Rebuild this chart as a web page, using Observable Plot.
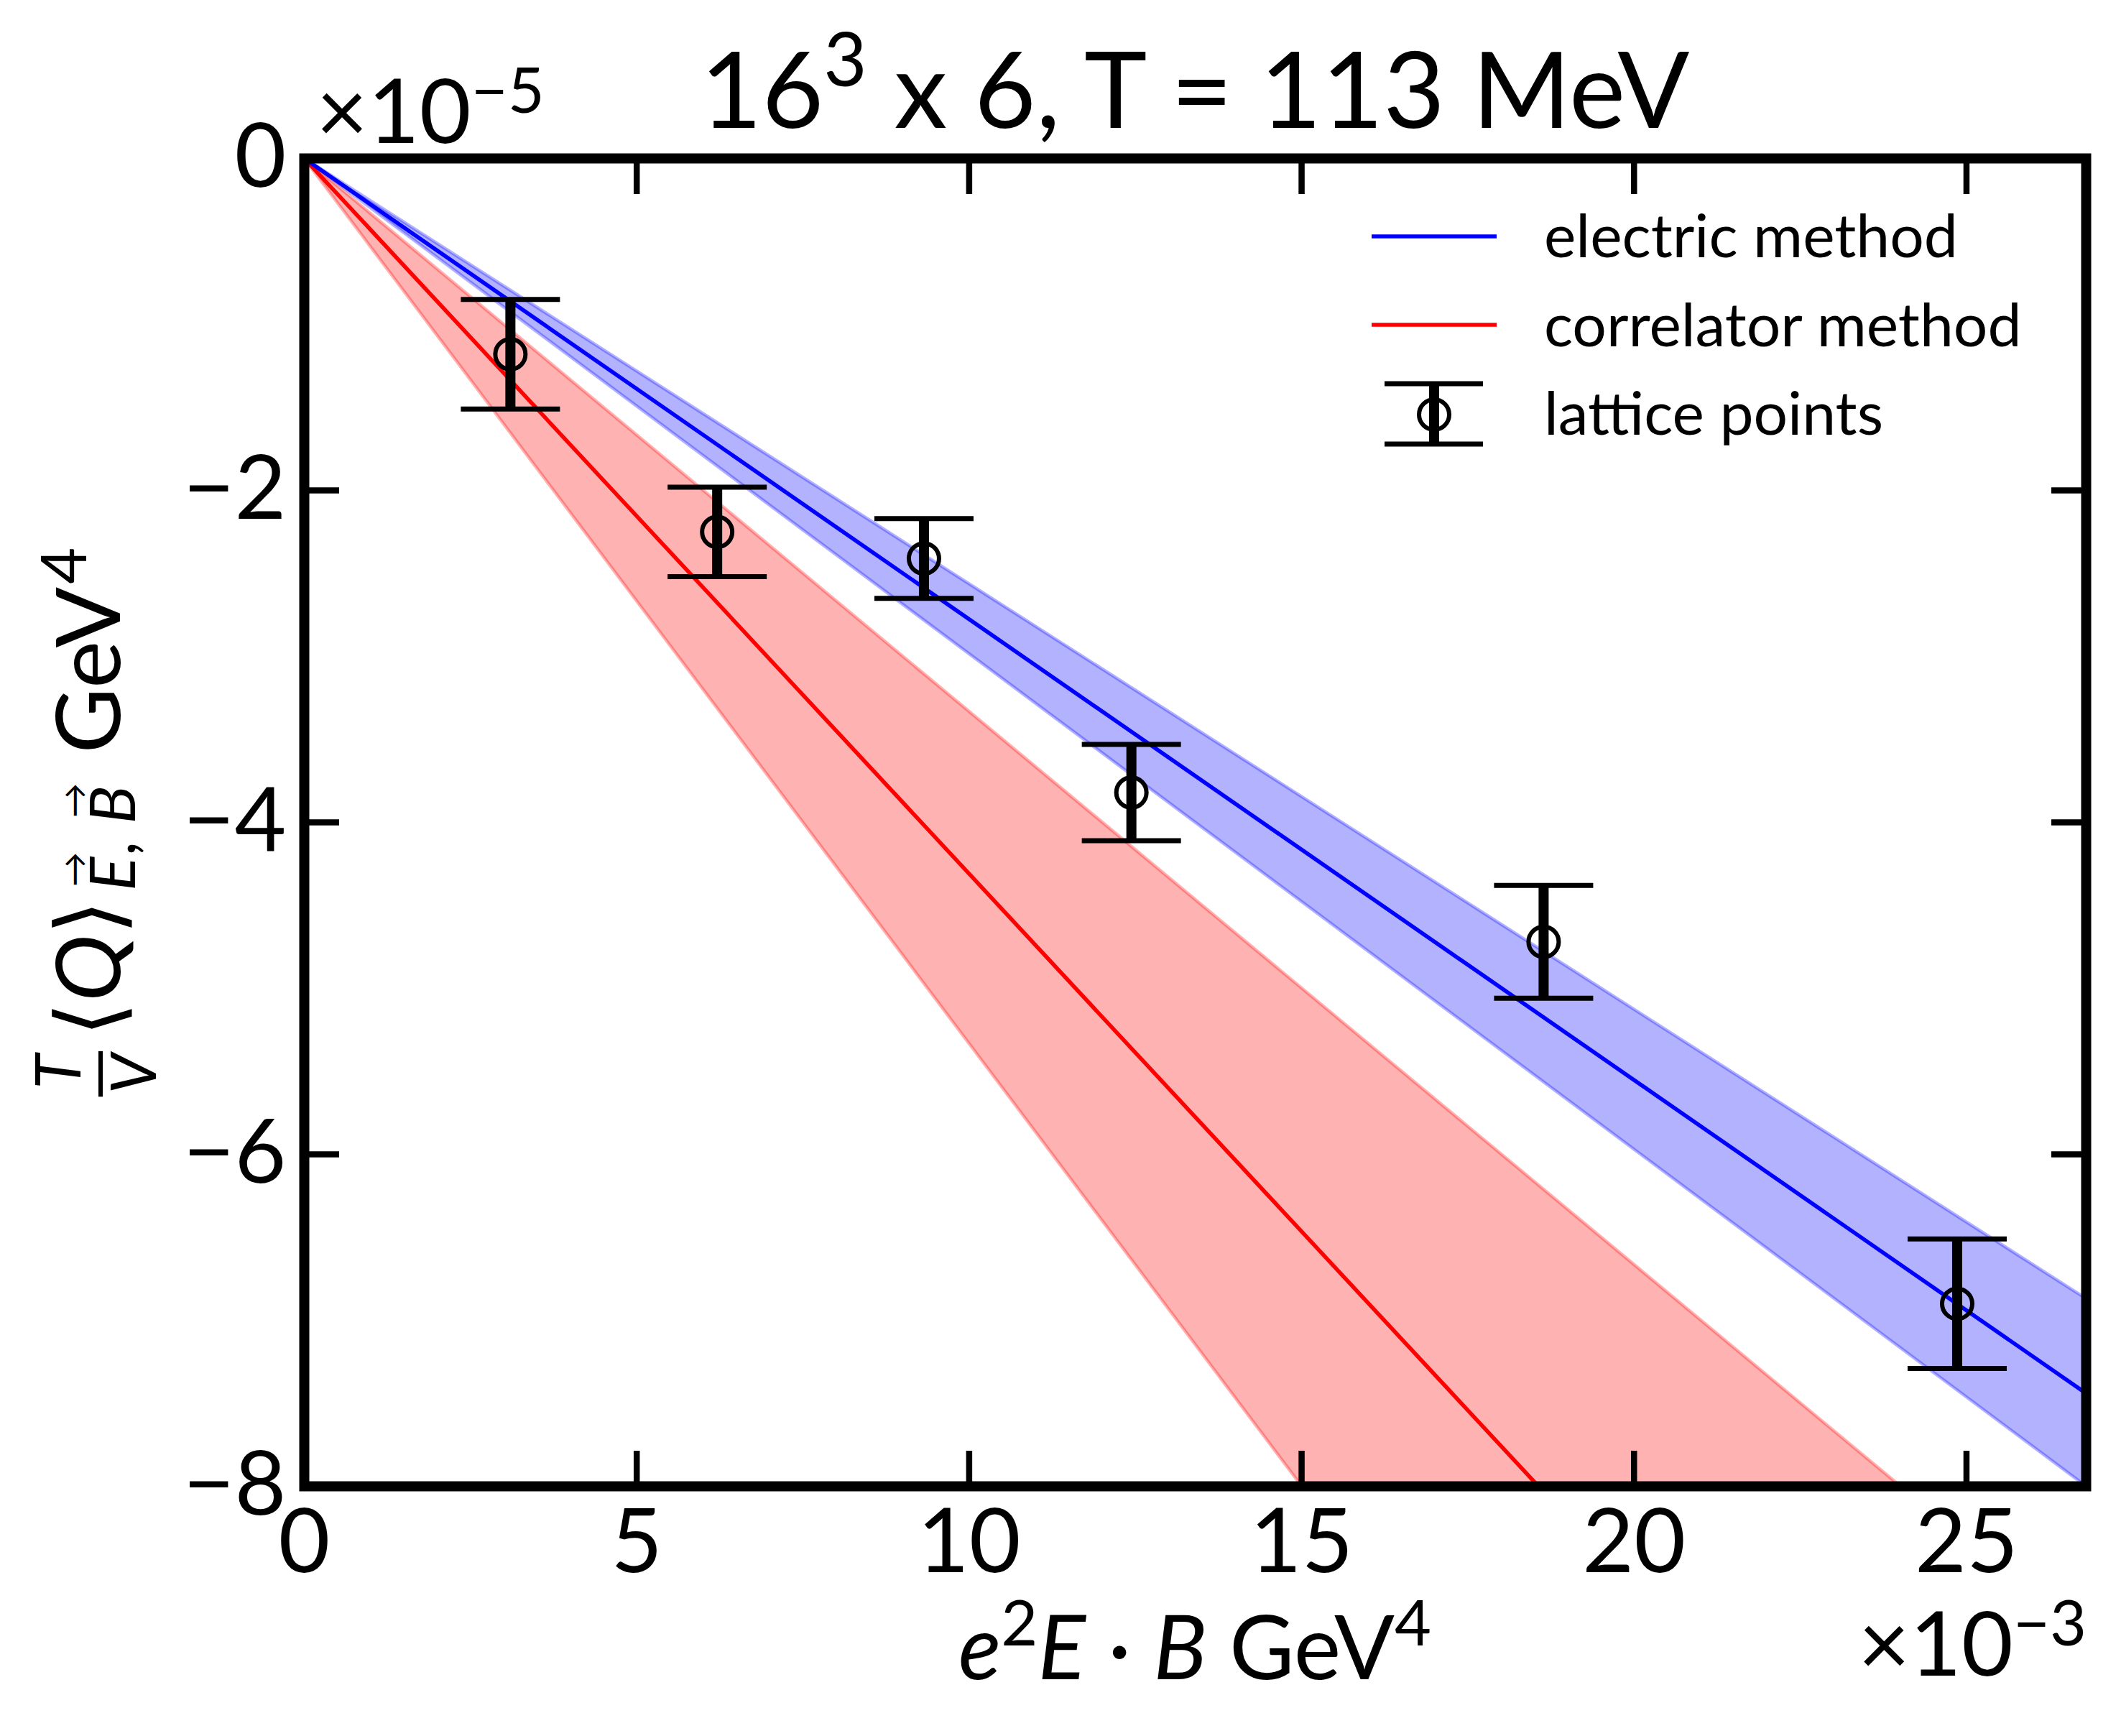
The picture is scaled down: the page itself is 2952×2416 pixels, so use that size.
<!DOCTYPE html>
<html>
<head>
<meta charset="utf-8">
<script src="https://cdn.jsdelivr.net/npm/d3@7"></script>
<script src="https://cdn.jsdelivr.net/npm/@observablehq/plot@0.6"></script>
<style>
  html, body { margin: 0; padding: 0; background: #fff; }
  #chart svg { display: block; }
</style>
</head>
<body>
<div id="chart"></div>
<script>
// ---- data (x in units of 1e-3 GeV^4, y in units of 1e-5 GeV^4) ----
const xValues = [3.10, 6.21, 9.32, 12.44, 18.64, 24.86];
const yValues = [-1.18, -2.25, -2.41, -3.82, -4.72, -6.90];
const yErrors = [0.33, 0.27, 0.24, 0.29, 0.34, 0.39];

const fitX = [0, 26.8];
const electricFit = [0, -7.44];
const electricLow = [0, -8.00];
const electricHigh = [0, -6.87];
const correlatorFit = [0, -11.55];
const correlatorLow = [0, -14.29];
const correlatorHigh = [0, -8.93];

const xTicks = [0, 5, 10, 15, 20, 25];
const yTicks = [0, -2, -4, -6, -8];
const xDomain = [0, 26.8];
const yDomain = [-8, 0];
const seriesNames = ["electric method", "correlator method", "lattice points"];

// ---- tables ----
const points = xValues.map((x, i) => ({x, y: yValues[i], err: yErrors[i]}));
const electric = fitX.map((x, i) => ({x, fit: electricFit[i], lo: electricLow[i], hi: electricHigh[i]}));
const correlator = fitX.map((x, i) => ({x, fit: correlatorFit[i], lo: correlatorLow[i], hi: correlatorHigh[i]}));

const fmt = d3.format("d");
const capSymbol = {draw(ctx, size) { const r = Math.sqrt(size / Math.PI); ctx.moveTo(-r, 0); ctx.lineTo(r, 0); }};

const W = 2952, H = 2416, mL = 423, mR = 49, mT = 220, mB = 348;
const FONT = "Lato, 'Noto Sans', sans-serif";

const plot = Plot.plot({
  width: W, height: H,
  marginLeft: mL, marginRight: mR, marginTop: mT, marginBottom: mB,
  style: {fontFamily: FONT, fontSize: "124px", color: "black", background: "white", overflow: "visible"},
  x: {domain: xDomain},
  y: {domain: yDomain},
  marks: [
    Plot.areaY(correlator, {x: "x", y1: "lo", y2: "hi", fill: "red", fillOpacity: 0.3, stroke: "red", strokeOpacity: 0.3, strokeWidth: 4.5, clip: true}),
    Plot.areaY(electric, {x: "x", y1: "lo", y2: "hi", fill: "blue", fillOpacity: 0.3, stroke: "blue", strokeOpacity: 0.3, strokeWidth: 4.5, clip: true}),
    Plot.line(correlator, {x: "x", y: "fit", stroke: "red", strokeWidth: 5.5, clip: true}),
    Plot.line(electric, {x: "x", y: "fit", stroke: "blue", strokeWidth: 5.5, clip: true}),
    Plot.ruleX(points, {x: "x", y1: d => d.y - d.err, y2: d => d.y + d.err, stroke: "black", strokeWidth: 14}),
    Plot.dot(points, {x: "x", y: d => d.y - d.err, symbol: capSymbol, r: 69, stroke: "black", strokeWidth: 7, fill: "none"}),
    Plot.dot(points, {x: "x", y: d => d.y + d.err, symbol: capSymbol, r: 69, stroke: "black", strokeWidth: 7, fill: "none"}),
    Plot.dot(points, {x: "x", y: "y", r: 21, stroke: "black", strokeWidth: 6, fill: "none"}),
    Plot.axisX({anchor: "bottom", ticks: xTicks, tickSize: -49, strokeWidth: 8.5, fill: "none", label: null}),
    Plot.axisX({anchor: "top", ticks: xTicks, tickSize: -49, strokeWidth: 8.5, fill: "none", label: null}),
    Plot.axisY({anchor: "left", ticks: yTicks, tickSize: -49, strokeWidth: 8.5, fill: "none", label: null}),
    Plot.axisY({anchor: "right", ticks: yTicks, tickSize: -49, strokeWidth: 8.5, fill: "none", label: null}),
    Plot.axisX({anchor: "bottom", ticks: xTicks, tickSize: 0, tickPadding: 31, tickFormat: fmt, label: null, fontSize: 124}),
    Plot.axisY({anchor: "left", ticks: yTicks, tickSize: 0, tickPadding: 25, tickFormat: fmt, label: null, fontSize: 124}),
    Plot.frame({stroke: "black", strokeWidth: 14})
  ]
});

document.getElementById("chart").append(plot);
const svg = d3.select(plot);
const cx = (mL + (W - mR)) / 2;

function txt(parent, anchor) {
  return parent.append("text").attr("text-anchor", anchor).attr("fill", "black").style("font-family", FONT);
}

// ---- title ----
const title = txt(svg, "middle").attr("x", cx).attr("y", 178).style("font-size", "148px");
title.append("tspan").text("16");
title.append("tspan").attr("dy", -58).style("font-size", "104px").text("3");
title.append("tspan").attr("dy", 58).text(" x 6, T = 113 MeV");

// ---- multipliers ----
const m5 = txt(svg, "start").attr("x", 440).attr("y", 199).style("font-size", "124px");
m5.append("tspan").text("×10");
m5.append("tspan").attr("dy", -42).style("font-size", "88px").text("−5");

const m3 = txt(svg, "end").attr("x", 2904).attr("y", 2332).style("font-size", "124px");
m3.append("tspan").text("×10");
m3.append("tspan").attr("dy", -42).style("font-size", "88px").text("−3");

// ---- x label ----
const xl = txt(svg, "middle").attr("x", cx).attr("y", 2337).style("font-size", "124px");
xl.append("tspan").style("font-style", "italic").text("e");
xl.append("tspan").attr("dy", -47).style("font-size", "88px").text("2");
xl.append("tspan").attr("dy", 47).style("font-style", "italic").text("E");
xl.append("tspan").text("\u2005·\u2005");
xl.append("tspan").style("font-style", "italic").text("B");
xl.append("tspan").text("\u2005GeV");
xl.append("tspan").attr("dy", -47).style("font-size", "88px").text("4");

// ---- y label (rotated, laid out piece by piece) ----
const yg = svg.append("g");
const inner = yg.append("g");
let pos = 0;
function piece(s, size, italic, dy) {
  const t = txt(inner, "start").attr("x", pos).attr("y", dy || 0)
    .style("font-size", size + "px").style("font-style", italic ? "italic" : "normal").text(s);
  const w = t.node().getComputedTextLength();
  return {t, w, x: pos};
}
// fraction T / V
{
  const tT = txt(inner, "middle").attr("y", -55).style("font-size", "88px").style("font-style", "italic").text("T");
  const tV = txt(inner, "middle").attr("y", 50).style("font-size", "88px").style("font-style", "italic").text("V");
  const fw = Math.max(tT.node().getComputedTextLength(), tV.node().getComputedTextLength()) + 8;
  tT.attr("x", fw / 2 + 3); tV.attr("x", fw / 2);
  inner.append("line").attr("x1", 0).attr("x2", fw).attr("y1", -27).attr("y2", -27).attr("stroke", "black").attr("stroke-width", 6);
  pos = fw + 20;
}
{
  const t = txt(inner, "start").attr("x", pos).style("font-size", "125px");
  t.append("tspan").text("⟨");
  t.append("tspan").style("font-style", "italic").text("Q");
  t.append("tspan").text("⟩");
  pos += t.node().getComputedTextLength() + 12;
}
{
  const e = piece("E", 88, true, 21);
  txt(inner, "middle").attr("x", e.x + e.w / 2 + 6).attr("y", -47).style("font-size", "48px").text("→");
  pos += e.w + 4;
  const c = piece(",", 88, true, 21);
  pos += c.w + 22;
  const b = piece("B", 88, true, 21);
  txt(inner, "middle").attr("x", b.x + b.w / 2 + 6).attr("y", -47).style("font-size", "48px").text("→");
  pos += b.w + 45;
}
{
  const g = piece("GeV", 125, false, 0);
  pos += g.w + 4;
  const s = piece("4", 88, false, -47);
  pos += s.w;
}
inner.attr("transform", `translate(${-pos / 2},0)`);
yg.attr("transform", `translate(167,${(mT + (H - mB)) / 2}) rotate(-90)`);

// ---- legend ----
const lg = svg.append("g");
const legendColors = ["blue", "red"];
const legendBase = [358, 482, 605];
[329, 452].forEach((y, i) => {
  lg.append("line").attr("x1", 1909).attr("x2", 2083).attr("y1", y).attr("y2", y)
    .attr("stroke", legendColors[i]).attr("stroke-width", 5.5);
});
lg.append("line").attr("x1", 1996).attr("x2", 1996).attr("y1", 534).attr("y2", 618).attr("stroke", "black").attr("stroke-width", 14);
[534, 618].forEach(y => lg.append("line").attr("x1", 1927).attr("x2", 2064).attr("y1", y).attr("y2", y).attr("stroke", "black").attr("stroke-width", 7));
lg.append("circle").attr("cx", 1996).attr("cy", 577).attr("r", 21).attr("fill", "none").attr("stroke", "black").attr("stroke-width", 6);
seriesNames.forEach((name, i) => {
  txt(lg, "start").attr("x", 2149).attr("y", legendBase[i]).style("font-size", "84px").text(name);
});
</script>
</body>
</html>
